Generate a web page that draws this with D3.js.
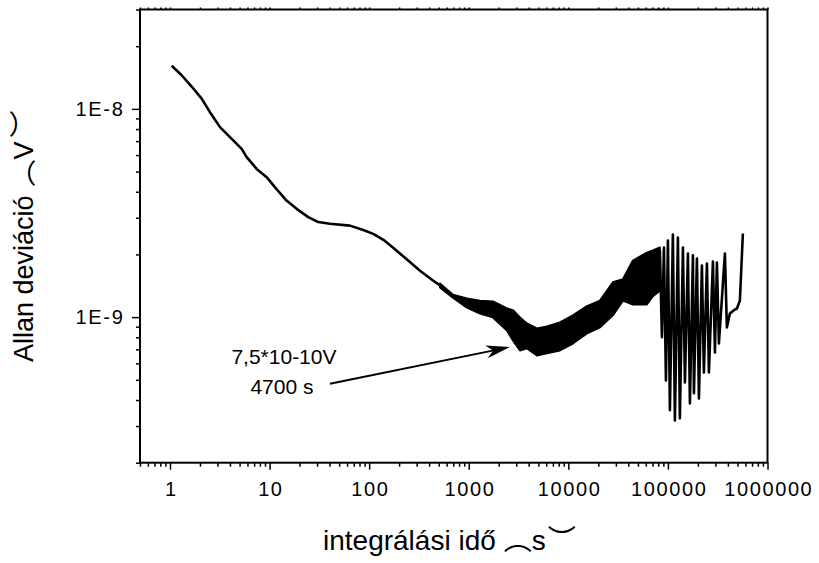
<!DOCTYPE html>
<html>
<head>
<meta charset="utf-8">
<script src="https://cdn.jsdelivr.net/npm/d3@7"></script>
<style>
body { margin: 0; background: #fff; }
svg text { font-family: "Liberation Sans", Arial, sans-serif; fill: #000; }
.paren { font-family: "Noto Sans CJK JP", "Noto Sans CJK SC", sans-serif; }
</style>
</head>
<body>
<svg id="chart" width="819" height="563"></svg>
<script>
// smooth part of the Allan deviation curve (tau in s, adev in V)
var tauMain = [1.04, 1.31, 1.65, 2.08, 2.52, 3.18, 4.0, 5.25, 5.89, 7.42, 9.35, 11.3, 14.8, 18.7, 24.5, 30.8, 40.4, 64.1, 87.3, 110, 139, 173, 240, 324, 437, 514];
var adevMain = [1.61e-8, 1.45e-8, 1.28e-8, 1.12e-8, 9.64e-9, 8.17e-9, 7.31e-9, 6.43e-9, 5.87e-9, 5.15e-9, 4.70e-9, 4.21e-9, 3.63e-9, 3.31e-9, 3.02e-9, 2.86e-9, 2.81e-9, 2.75e-9, 2.62e-9, 2.51e-9, 2.35e-9, 2.16e-9, 1.89e-9, 1.67e-9, 1.50e-9, 1.42e-9];

// noisy band: upper / lower envelope
var tauBand = [514, 694, 959, 1295, 1750, 2420, 2780, 3270, 3840, 4840, 6100, 8240, 11100, 15400, 20800, 28000, 35300, 44500, 61500, 70700, 83100];
var bandHigh = [1.45e-9, 1.28e-9, 1.23e-9, 1.20e-9, 1.19e-9, 1.10e-9, 1.08e-9, 9.97e-10, 9.33e-10, 8.83e-10, 9.03e-10, 9.43e-10, 1.02e-9, 1.13e-9, 1.20e-9, 1.47e-9, 1.52e-9, 1.87e-9, 2.04e-9, 2.09e-9, 2.16e-9];
var bandLow = [1.39e-9, 1.24e-9, 1.11e-9, 1.04e-9, 9.97e-10, 8.63e-10, 7.73e-10, 6.92e-10, 7.08e-10, 6.55e-10, 6.70e-10, 6.92e-10, 7.47e-10, 8.35e-10, 8.93e-10, 1.02e-9, 1.20e-9, 1.15e-9, 1.15e-9, 1.26e-9, 1.34e-9];

// long-tau oscillating tail
var tauTail = [83100, 87100, 91200, 95500, 100000, 104700, 112200, 117500, 126000, 131800, 141500, 148200, 158800, 166300, 178300, 182500, 195600, 204800, 219500, 229800, 246400, 258000, 283100, 296500, 310500, 325100, 373400, 391000, 419000, 460000, 493000, 528000, 566000];
var adevTail = [2.09e-9, 8.0e-10, 2.16e-9, 4.97e-10, 2.33e-9, 3.57e-10, 2.49e-9, 3.19e-10, 2.41e-9, 3.27e-10, 2.16e-9, 4.86e-10, 2.02e-9, 3.85e-10, 1.98e-9, 4.31e-10, 1.91e-9, 4.07e-10, 1.77e-9, 5.43e-10, 1.81e-9, 5.43e-10, 1.85e-9, 6.77e-10, 1.83e-9, 7.47e-10, 2.02e-9, 8.93e-10, 1.04e-9, 1.08e-9, 1.10e-9, 1.20e-9, 2.52e-9];

var xMajor = [1, 10, 100, 1000, 10000, 100000, 1000000];
var yMajor = [1e-9, 1e-8];
var yLabels = ['1E-9', '1E-8'];

// annotation: arrow tail / tip in data units
var noteLines = ['7,5*10-10V', '4700 s'];
var arrowFrom = [40.4, 4.79e-10];
var arrowTo = [2592, 7.18e-10];

var cfg = {left: 140, top: 9.5, right: 767.5, bottom: 462.7};
var svg = d3.select('#chart');
var x = d3.scaleLog().domain([0.5, 1e6]).range([cfg.left, cfg.right]);
var y = d3.scaleLog().domain([2e-10, 3e-8]).range([cfg.bottom, cfg.top]);

function minors(scale){
  var d = scale.domain(), out = [];
  var lo = Math.floor(Math.log10(d[0])), hi = Math.ceil(Math.log10(d[1]));
  for (var e = lo; e < hi; e++) {
    for (var m = 2; m <= 9; m++) {
      var v = m * Math.pow(10, e);
      if (v >= d[0] * 0.999 && v <= d[1] * 1.001) out.push(v);
    }
  }
  return out;
}

// axes
var gx = svg.append('g').attr('transform', 'translate(0,' + cfg.bottom + ')');
gx.append('g').call(d3.axisBottom(x).tickValues(minors(x)).tickSize(4).tickFormat(''));
gx.append('g').call(d3.axisBottom(x).tickValues(xMajor).tickSize(7).tickPadding(12).tickFormat(d3.format('d')))
  .selectAll('text').attr('font-size', 20).attr('letter-spacing', '1.6px').attr('dx', 0.8);

var gt = svg.append('g').attr('transform', 'translate(0,' + cfg.top + ')');
gt.append('g').call(d3.axisTop(x).tickValues(minors(x).concat(xMajor)).tickSize(2).tickFormat(''));

var gy = svg.append('g').attr('transform', 'translate(' + cfg.left + ',0)');
gy.append('g').call(d3.axisLeft(y).tickValues(minors(y).filter(function(v){
  return yMajor.every(function(m){ return Math.abs(v / m - 1) > 1e-6; });
})).tickSize(4).tickFormat(''));
gy.append('g').call(d3.axisLeft(y).tickValues(yMajor).tickSize(8).tickPadding(7.5).tickFormat(function(d, i){
  return yLabels[i];
})).selectAll('text').attr('font-size', 20).attr('letter-spacing', '1.7px');

svg.selectAll('.domain').remove();
svg.selectAll('.tick line').attr('stroke', '#000').attr('stroke-width', 1.5);
svg.selectAll('.tick text').attr('fill', '#000').attr('font-family', '"Liberation Sans", Arial, sans-serif');

svg.append('rect')
  .attr('x', cfg.left).attr('y', cfg.top)
  .attr('width', cfg.right - cfg.left).attr('height', cfg.bottom - cfg.top)
  .attr('fill', 'none').attr('stroke', '#000').attr('stroke-width', 2);

// curve
var line = d3.line().x(function(d){ return x(d[0]); }).y(function(d){ return y(d[1]); });
var plot = svg.append('g');
plot.append('path')
  .datum(d3.zip(tauMain, adevMain))
  .attr('d', line).attr('fill', 'none').attr('stroke', '#000').attr('stroke-width', 2.6)
  .attr('stroke-linejoin', 'round');

var area = d3.area().x(function(d){ return x(d[0]); }).y0(function(d){ return y(d[2]); }).y1(function(d){ return y(d[1]); });
plot.append('path')
  .datum(d3.zip(tauBand, bandHigh, bandLow))
  .attr('d', area).attr('fill', '#000').attr('stroke', '#000').attr('stroke-width', 2)
  .attr('stroke-linejoin', 'round');

plot.append('path')
  .datum(d3.zip(tauTail, adevTail))
  .attr('d', line).attr('fill', 'none').attr('stroke', '#000').attr('stroke-width', 2.6)
  .attr('stroke-linejoin', 'round');

// annotation
var ax0 = x(arrowFrom[0]), ay0 = y(arrowFrom[1]), ax1 = x(arrowTo[0]), ay1 = y(arrowTo[1]);
var ang = Math.atan2(ay1 - ay0, ax1 - ax0);
svg.append('line')
  .attr('x1', ax0).attr('y1', ay0)
  .attr('x2', ax1 - 14 * Math.cos(ang)).attr('y2', ay1 - 14 * Math.sin(ang))
  .attr('stroke', '#000').attr('stroke-width', 2);
svg.append('path')
  .attr('transform', 'translate(' + ax1 + ',' + ay1 + ') rotate(' + (ang * 180 / Math.PI) + ')')
  .attr('d', 'M0,0 L-24,-6.5 L-17,0 L-24,6.5 Z')
  .attr('fill', '#000');

svg.selectAll('text.note').data(noteLines).enter().append('text')
  .attr('class', 'note')
  .attr('x', function(d, i){ return ax0 - 46 - i * 2; })
  .attr('y', function(d, i){ return ay0 - 20 + i * 30; })
  .attr('text-anchor', 'middle').attr('font-size', 21)
  .text(function(d){ return d; });

// axis titles: the brackets show up as the vertical paren forms (arcs)
var xt = svg.append('text').attr('x', 323).attr('y', 550).attr('font-size', 28);
xt.append('tspan').text('integrálási idő');
xt.append('tspan').attr('class', 'paren').attr('dx', 8).text('︵');
xt.append('tspan').text('s');
xt.append('tspan').attr('class', 'paren').attr('dx', 2).text('︶');

var yt = svg.append('text').attr('transform', 'translate(33,362) rotate(-90)').attr('font-size', 27);
yt.append('tspan').text('Allan deviáció');
yt.append('tspan').attr('class', 'paren').attr('dx', 9).text('︵');
yt.append('tspan').text('V');
yt.append('tspan').attr('class', 'paren').attr('dx', 4).text('︶');
</script>
</body>
</html>
